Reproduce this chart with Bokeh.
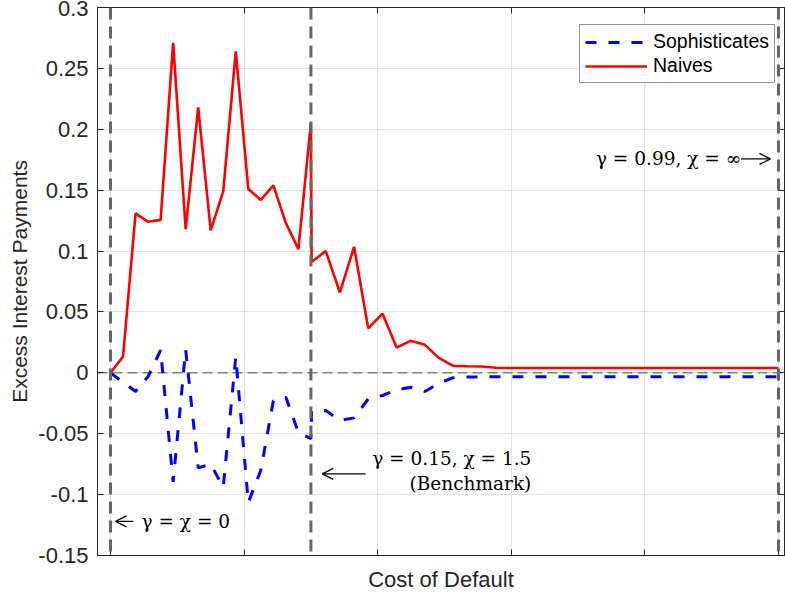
from bokeh.plotting import figure
from bokeh.models import (Range1d, FixedTicker, LinearAxis, Span, Label, Arrow,
                          OpenHead, Legend, LegendItem)
from bokeh.embed import file_html
from bokeh.resources import INLINE

# ---------------- data ----------------
cost = [0.0, 0.01875, 0.0375, 0.05625, 0.075, 0.09375, 0.1125, 0.13125, 0.15,
        0.16875, 0.1875, 0.20625, 0.225, 0.24375, 0.2625, 0.28125, 0.3,
        0.301, 0.3222, 0.3434, 0.3646, 0.3858, 0.4071, 0.4283, 0.4495, 0.4707,
        0.4919, 0.5131, 0.5343, 0.5555, 0.5767, 0.5979, 0.6192, 0.6404, 0.6616,
        0.6828, 0.7040, 0.7252, 0.7464, 0.7676, 0.7888, 0.8100, 0.8313, 0.8525,
        0.8737, 0.8949, 0.9161, 0.9373, 0.9585, 0.9797, 1.0]

naives = [0.0, 0.0134, 0.131, 0.124, 0.1256, 0.271, 0.118, 0.218, 0.117, 0.149,
          0.264, 0.151, 0.142, 0.154, 0.123, 0.1016, 0.2055,
          0.091, 0.100, 0.066, 0.1035, 0.0365, 0.0487, 0.0208, 0.0263, 0.023,
          0.0121, 0.0057, 0.0054, 0.0052, 0.0042, 0.004, 0.004, 0.004, 0.004,
          0.004, 0.004, 0.004, 0.004, 0.004, 0.004, 0.004, 0.004, 0.004,
          0.004, 0.004, 0.004, 0.004, 0.004, 0.004, 0.004]

sophisticates = [0.0, -0.0077, -0.0153, -0.003, 0.0186, -0.0895, 0.0189, -0.078,
                 -0.075, -0.094, 0.013, -0.1065, -0.080, -0.023, -0.020, -0.049,
                 -0.054,
                 -0.0315, -0.031, -0.039, -0.037, -0.0214, -0.0186, -0.014,
                 -0.0118, -0.0153, -0.0085, -0.004, -0.0034, -0.0033, -0.0033,
                 -0.0033, -0.0033, -0.0033, -0.0033, -0.0033, -0.0033, -0.0033,
                 -0.0033, -0.0033, -0.0033, -0.0033, -0.0033, -0.0033, -0.0033,
                 -0.0033, -0.0033, -0.0033, -0.0033, -0.0033, -0.0033]

y_ticks = [-0.15, -0.1, -0.05, 0.0, 0.05, 0.1, 0.15, 0.2, 0.25, 0.3]
y_tick_labels = ["-0.15", "-0.1", "-0.05", "0", "0.05", "0.1", "0.15", "0.2", "0.25", "0.3"]
x_ticks = [0.0, 0.2, 0.4, 0.6, 0.8, 1.0]
marker_lines = [0.0, 0.3, 1.0]   # gamma=chi=0, benchmark, gamma=0.99/chi=inf

# ---------------- figure ----------------
AX = "#262626"
p = figure(width=785, height=599, x_range=Range1d(-0.0195, 1.009),
           y_range=Range1d(-0.15, 0.3), output_backend="svg",
           toolbar_location=None, min_border_left=97, min_border_right=1,
           min_border_top=7, min_border_bottom=44)
p.background_fill_color = "white"
p.border_fill_color = "white"
p.outline_line_color = AX
p.outline_line_width = 1

# axes
p.xaxis.ticker = FixedTicker(ticks=x_ticks)
p.yaxis.ticker = FixedTicker(ticks=y_ticks)
p.yaxis.major_label_overrides = {t: s for t, s in zip(y_ticks, y_tick_labels)}
for ax in (p.xaxis[0], p.yaxis[0]):
    ax.axis_line_color = AX
    ax.major_tick_line_color = AX
    ax.major_tick_in = 6
    ax.major_tick_out = 0
    ax.minor_tick_line_color = None
    ax.major_label_text_color = AX
    ax.major_label_text_font = "Liberation Sans"
    ax.axis_label_text_font = "Liberation Sans"
    ax.axis_label_text_font_style = "normal"
    ax.axis_label_text_color = AX
    ax.axis_label_text_font_size = "21px"
p.yaxis.major_label_text_font_size = "22px"
p.yaxis.major_label_standoff = 9
p.yaxis.axis_label = "Excess Interest Payments"
p.yaxis.axis_label_standoff = 4
p.xaxis.major_label_text_font_size = "1px"
p.xaxis.major_label_text_color = None
p.xaxis.major_label_standoff = 0
p.xaxis.axis_label = "Cost of Default"
p.xaxis.axis_label_standoff = 11
p.xaxis.axis_label_text_font_size = "22px"

for loc, tick in (("above", x_ticks), ("right", y_ticks)):
    a = LinearAxis(ticker=FixedTicker(ticks=tick))
    a.axis_line_color = AX
    a.major_tick_line_color = AX
    a.major_tick_in = 6
    a.major_tick_out = 0
    a.minor_tick_line_color = None
    a.major_label_text_font_size = "1px"
    a.major_label_text_color = None
    a.major_label_standoff = 0
    p.add_layout(a, loc)

# grid
p.xgrid.ticker = FixedTicker(ticks=x_ticks)
p.ygrid.ticker = FixedTicker(ticks=y_ticks)
p.grid.grid_line_color = "#e2e2e2"
p.grid.grid_line_width = 1

# zero line
p.add_layout(Span(location=0.0, dimension="width", line_color="#808080",
                  line_width=1.5, line_dash="10 5", level="underlay"))

# data lines
r_soph = p.line(cost, sophisticates, line_color="#0000ff", line_width=3,
                line_dash="11 12")
r_naive = p.line(cost, naives, line_color="#ff0000", line_width=2.6)

# vertical markers
for xv in marker_lines:
    p.add_layout(Span(location=xv, dimension="height", line_color="#666666",
                      line_width=3, line_dash="12 7"))

# annotations
SERIF = "DejaVu Serif"
def lab(x, y, t, align="left", base="middle"):
    p.add_layout(Label(x=x, y=y, text=t, text_font=SERIF, text_font_size="18.5px",
                       text_color="black", text_align=align, text_baseline=base))

def arrow(x0, x1, y):
    p.add_layout(Arrow(end=OpenHead(size=11, line_width=1.3, line_color="black"),
                       x_start=x0, y_start=y, x_end=x1, y_end=y,
                       line_width=1.3, line_color="black"))

lab(0.0464, -0.122, "γ = χ = 0")
arrow(0.034, 0.0075, -0.122)

lab(0.630, -0.0706, "γ = 0.15, χ = 1.5", align="right")
lab(0.630, -0.0911, "(Benchmark)", align="right")
arrow(0.382, 0.317, -0.083)

lab(0.944, 0.1757, "γ = 0.99, χ = ∞", align="right")
arrow(0.944, 0.988, 0.1757)

# legend
legend = Legend(items=[LegendItem(label="Sophisticates", renderers=[r_soph]),
                       LegendItem(label="Naives", renderers=[r_naive])],
                location=(482, 472))
legend.label_text_font = "Liberation Sans"
legend.label_text_font_size = "19.5px"
legend.label_text_color = "black"
legend.glyph_width = 62
legend.glyph_height = 20
legend.label_height = 20
legend.label_standoff = 6
legend.padding = 5
legend.spacing = 1
legend.margin = 0
legend.border_line_color = AX
legend.border_line_width = 1
legend.background_fill_alpha = 1
p.add_layout(legend, "center")

open("out.html", "w").write(file_html(p, INLINE))
